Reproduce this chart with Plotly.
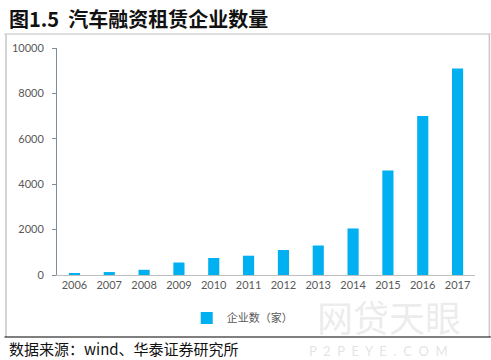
import plotly.graph_objects as go

years = ["2006", "2007", "2008", "2009", "2010", "2011", "2012", "2013", "2014", "2015", "2016", "2017"]
counts = [80, 130, 230, 550, 750, 850, 1100, 1300, 2050, 4600, 7000, 9100]
series_name = "企业数（家）"
title_text = "图1.5  汽车融资租赁企业数量"
source_text = "数据来源：wind、华泰证券研究所"
y_ticks = [0, 2000, 4000, 6000, 8000, 10000]
y_tick_labels = ["0", "2000", "4000", "6000", "8000", "10000"]

W, H = 491, 360
L, R, T, B = 53, 16, 48, 85
PW, PH = W - L - R, H - T - B

def px(x):
    return (x - L) / PW

def py(y):
    return (H - B - y) / PH

fig = go.Figure()
fig.add_trace(go.Bar(
    x=years, y=counts, name=series_name,
    marker=dict(color="#00B0F0", line=dict(width=0)),
))

fig.update_layout(
    width=W, height=H,
    margin=dict(l=L, r=R, t=T, b=B),
    paper_bgcolor="white", plot_bgcolor="white",
    bargap=0.68,
    showlegend=True,
    legend=dict(
        orientation="h", x=px(240), y=py(318), xanchor="center", yanchor="middle",
        font=dict(family="Noto Sans CJK SC", size=11, color="#595959"),
        itemwidth=30,
    ),
    font=dict(family="Lato", color="#595959"),
)
fig.update_xaxes(
    showline=True, linecolor="#BFBFBF", linewidth=1,
    ticks="", showgrid=False,
    tickfont=dict(family="Lato", size=11, color="#595959"),
)
fig.update_yaxes(
    range=[0, 10000], tickvals=y_ticks, ticktext=y_tick_labels,
    showline=True, linecolor="#7F8C99", linewidth=1,
    ticks="outside", ticklen=4, tickcolor="#7F8C99",
    ticklabelstandoff=6,
    showgrid=False, zeroline=False,
    tickfont=dict(family="Lato", size=11, color="#595959"),
)

shapes = [
    dict(type="line", xref="paper", yref="paper", x0=px(0), x1=px(491), y0=py(34), y1=py(34),
         line=dict(color="#BFBFBF", width=1)),
    dict(type="line", xref="paper", yref="paper", x0=px(1.5), x1=px(1.5), y0=py(34), y1=py(337),
         line=dict(color="#C8C8C8", width=1.5)),
    dict(type="line", xref="paper", yref="paper", x0=px(489.5), x1=px(489.5), y0=py(34), y1=py(337),
         line=dict(color="#C8C8C8", width=1.5)),
    dict(type="line", xref="paper", yref="paper", x0=px(0), x1=px(491), y0=py(337), y1=py(337),
         line=dict(color="#000000", width=1.2)),
]
fig.update_layout(shapes=shapes)

annotations = [
    dict(text="网贷天眼", xref="paper", yref="paper", x=px(388), y=py(316),
         xanchor="center", yanchor="middle", showarrow=False,
         font=dict(family="Noto Sans CJK SC", size=36, color="rgba(200,200,200,0.35)")),
    dict(text="P  2  P  E  Y  E  .  C  O  M", xref="paper", yref="paper", x=px(378), y=py(351),
         xanchor="center", yanchor="middle", showarrow=False,
         font=dict(family="Lato", size=13, color="rgba(200,200,200,0.5)")),
    dict(text="<b>" + title_text + "</b>", xref="paper", yref="paper", x=px(3), y=py(18),
         xanchor="left", yanchor="middle", showarrow=False,
         font=dict(family="Noto Sans CJK SC", size=20, color="#111111")),
    dict(text=source_text, xref="paper", yref="paper", x=px(3), y=py(349),
         xanchor="left", yanchor="middle", showarrow=False,
         font=dict(family="Noto Sans CJK SC", size=15, color="#111111")),
]
fig.update_layout(annotations=annotations)

fig.write_html("out.html", config={"displayModeBar": False},
               post_script="document.body.style.margin='0';document.body.style.overflow='hidden';")
